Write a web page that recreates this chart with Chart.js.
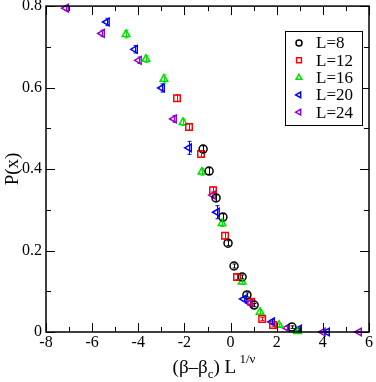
<!DOCTYPE html>
<html>
<head>
<meta charset="utf-8">
<script src="https://cdn.jsdelivr.net/npm/chart.js@4/dist/chart.umd.min.js"></script>
<style>
    html, body { margin: 0; padding: 0; background: #ffffff; }
    #wrap { width: 376px; height: 382px; position: relative; }
</style>
</head>
<body>
<div id="wrap"><canvas id="scaling-chart"></canvas></div>
<script>
/**
 * Scaling collapse of P(x) vs (beta - beta_c) L^(1/nu)
 * xmgrace-like look: boxed frame, inward ticks, serif labels
 */

// Series values
const L8_X = [-1.19, -0.93, -0.63, -0.33, -0.11, 0.15, 0.50, 0.71, 1.02, 2.66];
const L8_Y = [0.449, 0.395, 0.329, 0.282, 0.218, 0.162, 0.135, 0.091, 0.066, 0.012];
const L8_ERR = [0.008, 0.008, 0.008, 0.008, 0.006, 0.005, 0.005, 0.005, 0.004, 0.003];

const L12_X = [-2.32, -1.80, -1.28, -0.76, -0.24, 0.28, 0.89, 1.37, 1.84];
const L12_Y = [0.574, 0.503, 0.437, 0.348, 0.236, 0.135, 0.074, 0.032, 0.017];
const L12_ERR = [0.008, 0.008, 0.008, 0.008, 0.008, 0.006, 0.005, 0.004, 0.003];

const L16_X = [-4.53, -3.67, -2.89, -2.06, -1.24, -0.37, 0.50, 1.28, 2.10, 2.90];
const L16_Y = [0.731, 0.670, 0.621, 0.515, 0.393, 0.267, 0.123, 0.049, 0.017, 0.002];
const L16_ERR = [0.009, 0.008, 0.010, 0.008, 0.008, 0.008, 0.006, 0.005, 0.003, 0.002];

const L20_X = [-5.36, -4.14, -2.97, -1.80, -0.59, 0.58, 1.80, 2.97, 4.18];
const L20_Y = [0.761, 0.694, 0.599, 0.452, 0.294, 0.081, 0.025, 0.007, 0.0];
const L20_ERR = [0.009, 0.009, 0.010, 0.016, 0.016, 0.006, 0.005, 0.003, 0.001];

const L24_X = [-7.13, -5.57, -3.97, -2.45, -0.76, 0.84, 2.45, 4.00, 5.57];
const L24_Y = [0.795, 0.733, 0.667, 0.523, 0.336, 0.071, 0.010, 0.0, 0.0];
const L24_ERR = [0.006, 0.008, 0.008, 0.008, 0.008, 0.006, 0.004, 0.001, 0.001];

const SERIES_LABELS = ['L=8', 'L=12', 'L=16', 'L=20', 'L=24'];

// Tick values and labels
const X_MAJOR = [-8, -6, -4, -2, 0, 2, 4, 6];
const X_MAJOR_LABELS = ['-8', '-6', '-4', '-2', '0', '2', '4', '6'];
const X_MINOR = [-7, -5, -3, -1, 1, 3, 5];
const Y_MAJOR = [0, 0.2, 0.4, 0.6, 0.8];
const Y_MAJOR_LABELS = ['0', '0.2', '0.4', '0.6', '0.8'];
const Y_MINOR = [0.1, 0.3, 0.5, 0.7];

const SERIF = '"Liberation Serif", "DejaVu Serif", serif';

const MARKERS = [
    { color: '#000000', style: 'circle', rotation: 0, radius: 4 },
    { color: '#ff0000', style: 'rect', rotation: 0, radius: 4.6 },
    { color: '#00e000', style: 'triangle', rotation: 0, radius: 4.4 },
    { color: '#0000ff', style: 'triangle', rotation: -90, radius: 4.4 },
    { color: '#9400d3', style: 'triangle', rotation: -90, radius: 4.4 }
];

function toPoints(xs, ys, errs) {
    return xs.map((x, i) => ({ x: x, y: ys[i], err: errs[i] }));
}

const SERIES = [
    toPoints(L8_X, L8_Y, L8_ERR),
    toPoints(L12_X, L12_Y, L12_ERR),
    toPoints(L16_X, L16_Y, L16_ERR),
    toPoints(L20_X, L20_Y, L20_ERR),
    toPoints(L24_X, L24_Y, L24_ERR)
];

/**
 * Vertical error bars with small caps, in each series colour
 */
const errorBarPlugin = {
    id: 'errorBars',
    afterDatasetsDraw(chart) {
        const ctx = chart.ctx;
        const xs = chart.scales.x;
        const ys = chart.scales.y;
        ctx.save();
        ctx.lineWidth = 1;
        chart.data.datasets.forEach((ds, i) => {
            ctx.strokeStyle = MARKERS[i].color;
            ctx.beginPath();
            ds.data.forEach(p => {
                const px = Math.round(xs.getPixelForValue(p.x)) + 0.5;
                const top = ys.getPixelForValue(p.y + p.err);
                const bot = ys.getPixelForValue(p.y - p.err);
                ctx.moveTo(px, top); ctx.lineTo(px, bot);
                ctx.moveTo(px - 2, top); ctx.lineTo(px + 2, top);
                ctx.moveTo(px - 2, bot); ctx.lineTo(px + 2, bot);
            });
            ctx.stroke();
        });
        ctx.restore();
    }
};

/**
 * Frame, inward ticks, tick labels, axis titles and the boxed legend
 */
const gracePlugin = {
    id: 'grace',
    afterDatasetsDraw(chart) {
        const ctx = chart.ctx;
        const area = chart.chartArea;
        const xs = chart.scales.x;
        const ys = chart.scales.y;

        ctx.save();
        ctx.strokeStyle = '#000000';
        ctx.lineWidth = 1.5;
        ctx.strokeRect(area.left, area.top, area.right - area.left, area.bottom - area.top);

        ctx.lineWidth = 1;
        ctx.beginPath();
        const tick = (vals, len) => {
            vals.forEach(v => {
                const px = Math.round(xs.getPixelForValue(v)) + 0.5;
                ctx.moveTo(px, area.bottom); ctx.lineTo(px, area.bottom - len);
                ctx.moveTo(px, area.top); ctx.lineTo(px, area.top + len);
            });
        };
        const tickY = (vals, len) => {
            vals.forEach(v => {
                const py = Math.round(ys.getPixelForValue(v)) + 0.5;
                ctx.moveTo(area.left, py); ctx.lineTo(area.left + len, py);
                ctx.moveTo(area.right, py); ctx.lineTo(area.right - len, py);
            });
        };
        tick(X_MAJOR, 9);
        tick(X_MINOR, 5);
        tickY(Y_MAJOR, 9);
        tickY(Y_MINOR, 5);
        ctx.stroke();

        // Tick labels
        ctx.fillStyle = '#000000';
        ctx.font = '16px ' + SERIF;
        ctx.textAlign = 'center';
        ctx.textBaseline = 'top';
        X_MAJOR.forEach((v, i) => {
            ctx.fillText(X_MAJOR_LABELS[i], xs.getPixelForValue(v), area.bottom + 3);
        });
        ctx.textAlign = 'right';
        ctx.textBaseline = 'middle';
        Y_MAJOR.forEach((v, i) => {
            ctx.fillText(Y_MAJOR_LABELS[i], area.left - 4, ys.getPixelForValue(v));
        });

        // Y title
        ctx.save();
        ctx.translate(13, 169);
        ctx.rotate(-Math.PI / 2);
        ctx.textAlign = 'center';
        ctx.font = '19px ' + SERIF;
        ctx.fillText('P(x)', 0, 0);
        ctx.restore();

        // X title with subscript and superscript
        const big = '19px ' + SERIF;
        const small = '13px ' + SERIF;
        const parts = [
            { t: '(β–β', f: big, dy: 0 },
            { t: 'c', f: small, dy: 5 },
            { t: ') L', f: big, dy: 0 },
            { t: ' 1/ν', f: small, dy: -10 }
        ];
        let total = 0;
        parts.forEach(p => { ctx.font = p.f; p.w = ctx.measureText(p.t).width; total += p.w; });
        let cx = 214 - total / 2;
        const base = 373;
        ctx.textAlign = 'left';
        ctx.textBaseline = 'alphabetic';
        parts.forEach(p => {
            ctx.font = p.f;
            ctx.fillText(p.t, cx, base + p.dy);
            cx += p.w;
        });

        // Legend box
        const lx = 285, ly = 31, lw = 77, lh = 94;
        ctx.fillStyle = '#ffffff';
        ctx.fillRect(lx, ly, lw, lh);
        ctx.lineWidth = 1;
        ctx.strokeStyle = '#000000';
        ctx.strokeRect(lx + 0.5, ly + 0.5, lw, lh);
        ctx.font = '17px ' + SERIF;
        ctx.textBaseline = 'middle';
        SERIES_LABELS.forEach((label, i) => {
            const rowY = 43 + i * 17.3;
            const m = MARKERS[i];
            ctx.strokeStyle = m.color;
            ctx.fillStyle = 'rgba(0,0,0,0)';
            ctx.lineWidth = 1.5;
            Chart.helpers.drawPoint(ctx, {
                pointStyle: m.style,
                rotation: m.rotation,
                radius: m.radius * 0.75,
                borderWidth: 1.5
            }, 299, rowY);
            ctx.fillStyle = '#000000';
            ctx.fillText(label, 316, rowY + 1);
        });
        ctx.restore();
    }
};

function renderScalingChart() {
    const ctx = document.getElementById('scaling-chart').getContext('2d');

    const datasets = SERIES.map((pts, i) => ({
        label: SERIES_LABELS[i],
        data: pts,
        showLine: false,
        pointStyle: MARKERS[i].style,
        rotation: MARKERS[i].rotation,
        pointRadius: MARKERS[i].radius,
        pointBorderWidth: 1.5,
        pointBorderColor: MARKERS[i].color,
        pointBackgroundColor: 'rgba(0,0,0,0)',
        clip: false
    }));

    new Chart(ctx, {
        type: 'scatter',
        data: { datasets: datasets },
        plugins: [errorBarPlugin, gracePlugin],
        options: {
            responsive: true,
            maintainAspectRatio: false,
            animation: false,
            layout: {
                padding: { left: 46, right: 7, top: 6, bottom: 50 }
            },
            plugins: {
                legend: { display: false },
                tooltip: { enabled: false }
            },
            scales: {
                x: { type: 'linear', display: false, min: -8, max: 6 },
                y: { type: 'linear', display: false, min: 0, max: 0.8 }
            }
        }
    });
}

renderScalingChart();
</script>
</body>
</html>
